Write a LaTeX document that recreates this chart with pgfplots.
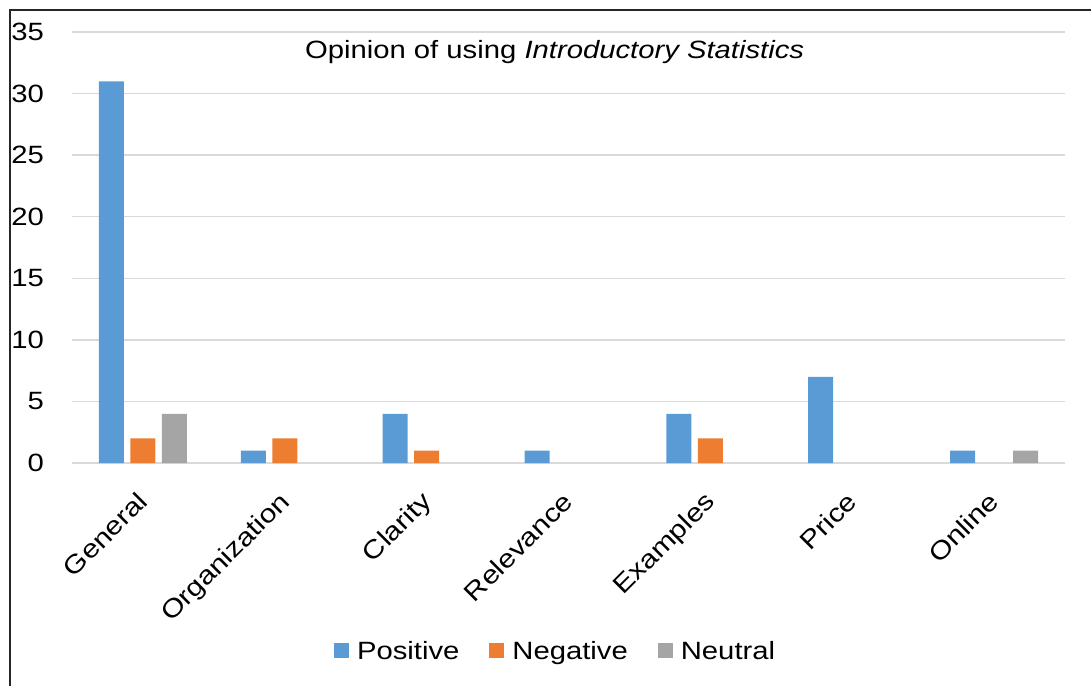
\documentclass[border=0pt]{standalone}
\usepackage{fontspec}
\setmainfont{Liberation Sans}[FakeStretch=1.17]
\usepackage{pgfplots}
\pgfplotsset{compat=1.18}
\definecolor{cpos}{HTML}{5B9BD5}
\definecolor{cneg}{HTML}{ED7D31}
\definecolor{cneu}{HTML}{A5A5A5}
\definecolor{gridc}{HTML}{D9D9D9}
\pgfplotsset{sqlegend/.style={legend image code/.code={\fill[##1] (0bp,-7.5bp) rectangle (15bp,7.5bp);}}}
\begin{document}
\begin{tikzpicture}
\path[use as bounding box] (0,0) rectangle (1091bp,-686bp);
\draw[line width=2bp, color=black!85] (10bp,-700bp) -- (10bp,-9.5bp) -- (1100bp,-9.5bp);
\begin{axis}[
  at={(72bp,-463bp)}, anchor=south west,
  scale only axis, width=993bp, height=431bp,
  ymin=0, ymax=35, ytick={0,5,...,35},
  xmin=-0.5, xmax=6.5, xtick={0,...,6},
  xticklabels={General,Organization,Clarity,Relevance,Examples,Price,Online},
  ybar=6.5bp, bar width=25bp,
  axis line style={draw=none},
  major tick length=0pt,
  ymajorgrids, grid style={gridc, line width=1.5bp},
  /pgf/number format/assume math mode=true,
  yticklabel style={anchor=east, inner sep=0pt, font=\fontsize{25bp}{30bp}\selectfont},
  yticklabel shift=28bp,
  xticklabel style={xshift=-7bp, rotate=45, anchor=north east, inner sep=0pt, font=\fontsize{25.5bp}{30bp}\selectfont},
  xticklabel shift=27bp,
  title={Opinion of using \textit{Introductory Statistics}},
  title style={at={(axis description cs:0.486,0.955)}, anchor=center, yshift=-7bp, inner sep=0pt, font=\fontsize{25bp}{30bp}\selectfont},
  legend style={at={(axis description cs:0.487,-0.436)}, anchor=center, draw=none, fill=none, legend columns=-1, font=\fontsize{25bp}{30bp}\selectfont, /tikz/every odd column/.append style={column sep=6bp}, /tikz/every even column/.append style={column sep=28bp}},
]
\addplot[fill=cpos, draw=none, sqlegend] coordinates {(0,31) (1,1) (2,4) (3,1) (4,4) (5,7) (6,1)};
\addplot[fill=cneg, draw=none, sqlegend] coordinates {(0,2) (1,2) (2,1) (4,2)};
\addplot[fill=cneu, draw=none, sqlegend] coordinates {(0,4) (6,1)};
\legend{Positive,Negative,Neutral}
\end{axis}
\end{tikzpicture}
\end{document}
